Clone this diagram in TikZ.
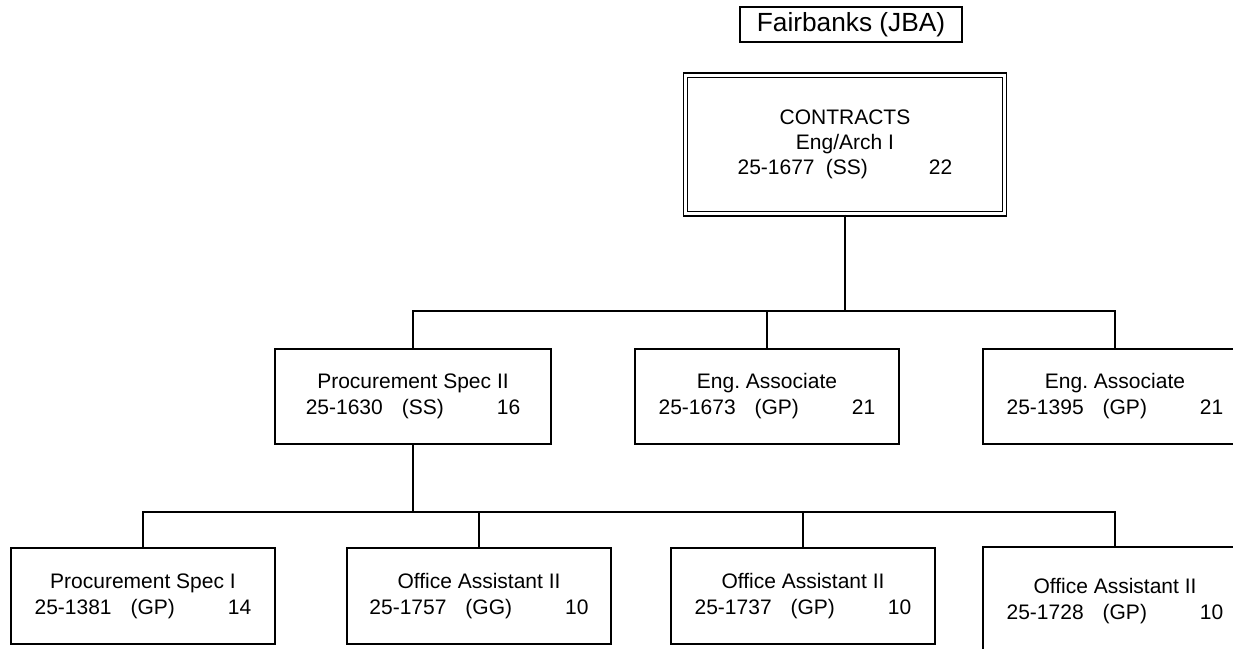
\documentclass[tikz,border=0pt]{standalone}
\usepackage{fontspec}
\setmainfont{Liberation Sans}
\usepackage{tikz}
\frenchspacing
\newcommand{\pcn}[3]{#1\hspace{14.25pt}(#2)\hspace{39.75pt}#3}
\begin{document}
\begin{tikzpicture}[x=0.75pt,y=-0.75pt,
        posbox/.style={draw,line width=1.1pt,minimum width=198pt,minimum height=71.25pt,inner sep=0pt,align=center,font=\fontsize{15.75}{19.5}\selectfont},
        bossbox/.style={posbox,double,double distance=2.2pt,minimum width=239.25pt,minimum height=104pt,font=\fontsize{15.75}{18.75}\selectfont},
        titlebox/.style={draw,line width=0.8pt,minimum width=166.5pt,minimum height=26.25pt,inner sep=0pt,font=\fontsize{19.7}{23}\selectfont},
        link/.style={line width=1.2pt}]
    \useasboundingbox (0,0) rectangle (1233,649);
    \clip (0,0) rectangle (1233,649);
    \node[titlebox] (site) at (851,24.5) {Fairbanks (JBA)};
    \node[bossbox] (boss) at (845,144.6) {CONTRACTS\\Eng/Arch I\\25-1677\hspace{8.5pt}(SS)\hspace{45.75pt}22};
    \node[posbox,minimum width=207pt] (spec2) at (413,396.5) {Procurement Spec II\\\pcn{25-1630}{SS}{16}};
    \node[posbox] (assoc1) at (767,396.5) {Eng. Associate\\\pcn{25-1673}{GP}{21}};
    \node[posbox] (assoc2) at (1115,396.5) {Eng. Associate\\\pcn{25-1395}{GP}{21}};
    \node[posbox,minimum height=72pt] (spec1) at (143,596) {Procurement Spec I\\\pcn{25-1381}{GP}{14}};
    \node[posbox,minimum height=72pt] (asst1) at (479,596) {Office Assistant II\\\pcn{25-1757}{GG}{10}};
    \node[posbox,minimum height=72pt] (asst2) at (803,596) {Office Assistant II\\\pcn{25-1737}{GP}{10}};
    \node[posbox,minimum height=81pt] (asst3) at (1115,601) {Office Assistant II\\\pcn{25-1728}{GP}{10}};
    \coordinate (bus1) at (845,311);
    \coordinate (bus2) at (413,512);
    \draw[link] (boss.south) -- (bus1);
    \draw[link] (bus1) -| (spec2.north);
    \draw[link] (bus1) -| (assoc1.north);
    \draw[link] (bus1) -| (assoc2.north);
    \draw[link] (spec2.south) -- (bus2);
    \foreach \n in {spec1,asst1,asst2,asst3}
        \draw[link] (bus2) -| (\n.north);
\end{tikzpicture}
\end{document}
